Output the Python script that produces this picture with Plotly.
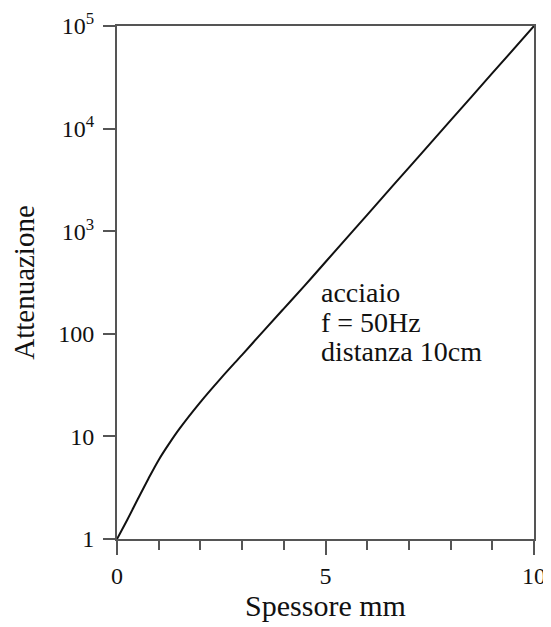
import plotly.graph_objects as go

# data
thickness_mm = [0, 0.25, 0.5, 0.75, 1.0, 1.25, 1.5, 2.0, 2.5, 3.0, 3.5, 4.0, 4.5, 5.0, 6.0, 7.0, 8.0, 9.0, 10.0]
attenuation = [1, 1.55, 2.45, 3.85, 5.9, 8.5, 11.9, 21.6, 37.2, 62.4, 105, 176, 295, 501, 1445, 4169, 12023, 34674, 100000]

y_tick_vals = [1, 10, 100, 1000, 10000, 100000]
y_tick_text = ["1", "10", "100", "10<sup>3</sup>", "10<sup>4</sup>", "10<sup>5</sup>"]
x_tick_vals = [0, 5, 10]

note_lines = ["acciaio", "f = 50Hz", "distanza 10cm"]

FONT = "Liberation Serif, Times New Roman, serif"
AX = "#555555"
INK = "#111111"

fig = go.Figure()
fig.add_trace(go.Scatter(x=thickness_mm, y=attenuation, mode="lines",
                         line=dict(color=INK, width=2, shape="spline", smoothing=1.0),
                         showlegend=False, hoverinfo="skip"))

# the page body adds an 8px offset, so the figure is 8px smaller and margins shifted
fig.update_layout(
    width=543, height=619,
    margin=dict(l=109, r=17, t=18, b=88),
    paper_bgcolor="white", plot_bgcolor="white",
    font=dict(family=FONT, color=INK, size=24),
)
fig.update_xaxes(
    range=[0, 10], tickvals=x_tick_vals, ticks="outside", ticklen=14, tickwidth=2,
    tickcolor=AX, showline=True, linecolor=AX, linewidth=2, mirror=True,
    showgrid=False, zeroline=False, automargin=False,
    minor=dict(dtick=1, ticks="outside", ticklen=9, tickwidth=2, tickcolor=AX, showgrid=False),
    tickfont=dict(size=24, family=FONT, color=INK),
    title=dict(text="Spessore mm", font=dict(size=30, family=FONT, color=INK), standoff=7),
)
fig.update_yaxes(
    type="log", range=[0, 5], tickvals=y_tick_vals, ticktext=y_tick_text,
    ticks="outside", ticklen=12, tickwidth=2, tickcolor=AX,
    showline=True, linecolor=AX, linewidth=2, mirror=True,
    showgrid=False, zeroline=False, automargin=False, ticklabelstandoff=4,
    tickfont=dict(size=24, family=FONT, color=INK),
    title=dict(text="Attenuazione", font=dict(size=29, family=FONT, color=INK), standoff=17),
)

for i, t in enumerate(note_lines):
    fig.add_annotation(text=t, xref="x", yref="paper", x=4.85, y=0.481 - i * 0.058,
                       xanchor="left", yanchor="middle", showarrow=False,
                       font=dict(size=28, family=FONT, color=INK))

fig.write_html("out.html")
